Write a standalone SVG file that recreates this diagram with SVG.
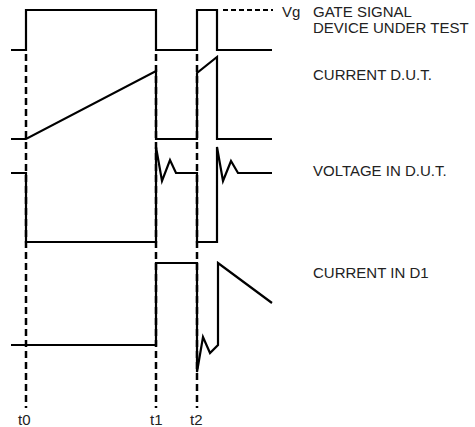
<svg xmlns="http://www.w3.org/2000/svg" width="475" height="427" viewBox="0 0 475 427">
<style>
.w{fill:none;stroke:#000;stroke-width:2.2;stroke-linejoin:miter;stroke-linecap:butt}
.d{fill:none;stroke:#000;stroke-width:2.5;stroke-dasharray:7 4}
.vd{fill:none;stroke:#000;stroke-width:2.2;stroke-dasharray:5 3}
text{font-family:"Liberation Sans",Arial,sans-serif;font-size:15px;fill:#222}
</style>
<rect width="475" height="427" fill="#fff"/>
<g id="connectors">
<line class="d" x1="26" y1="54" x2="26" y2="408"/>
<line class="d" x1="156" y1="54" x2="156" y2="408"/>
<line class="d" x1="197" y1="54" x2="197" y2="408"/>
<line class="vd" x1="223" y1="10" x2="273" y2="10"/>
</g>
<g id="gate">
<polyline class="w" points="11,50 26,50 26,10 156,10 156,50 197,50 197,10 217,10 217,50 272,50"/>
<text x="282" y="17">Vg</text>
<text x="313" y="17">GATE SIGNAL</text>
<text x="313" y="33">DEVICE UNDER TEST</text>
</g>
<g id="current-dut">
<polyline class="w" points="11,139 26,139 156,71 156,139 197,139 197,73 217,57 217,139 272,139"/>
<text x="313" y="80">CURRENT D.U.T.</text>
</g>
<g id="voltage-dut">
<polyline class="w" points="11,173 26,173 26,242 156,242 156,147 162,181 170,160 176,173 197,173 197,242 217,242 217,147 223,181 231,161 238,173 272,173"/>
<text x="313" y="176">VOLTAGE IN D.U.T.</text>
</g>
<g id="current-d1">
<polyline class="w" points="11,345 156,345 156,263 197,263 197,372 203,337 210,353 218,345 218,263 272,303"/>
<text x="313" y="278">CURRENT IN D1</text>
</g>
<g id="times">
<text x="18" y="425">t0</text>
<text x="150" y="425">t1</text>
<text x="190" y="425">t2</text>
</g>
</svg>
